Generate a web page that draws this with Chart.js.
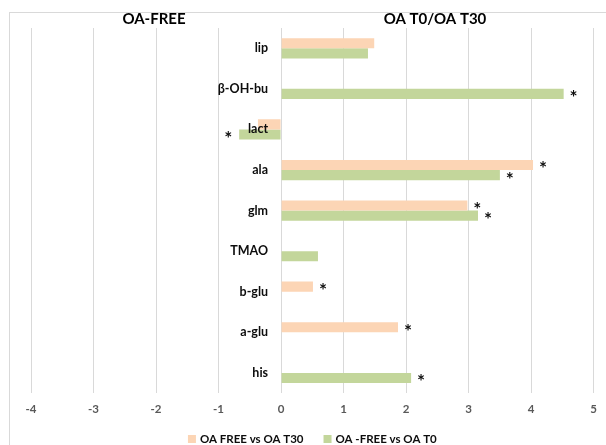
<!DOCTYPE html>
<html>
<head>
<meta charset="utf-8">
<title>OA-FREE vs OA T0/OA T30</title>
<script src="https://cdn.jsdelivr.net/npm/chart.js@4"></script>
<style>
  html, body { margin: 0; padding: 0; background: #fff; overflow: hidden; }
  #wrap { position: relative; width: 606px; height: 445px; }
  #frame { position: absolute; left: 9px; top: 12px; width: 700px; height: 500px;
           border: 1px solid #D9D9D9; pointer-events: none; }
  canvas { position: absolute; left: 0; top: 0; }
</style>
</head>
<body>
<div id="wrap">
  <canvas id="foldChart" width="606" height="445"></canvas>
  <div id="frame"></div>
</div>
<script>
// metabolites, top to bottom
const metabolites = ['lip', 'β-OH-bu', 'lact', 'ala', 'glm', 'TMAO', 'b-glu', 'a-glu', 'his'];

// fold change per metabolite (null = not shown)
const freeVsT30 = [1.49, null, -0.37, 4.03, 2.98, null, 0.51, 1.87, null];
const freeVsT0 = [1.39, 4.52, -0.67, 3.50, 3.15, 0.59, null, null, 2.08];

// significance markers (*)
const sigT30 = [false, false, false, true, true, false, true, true, false];
const sigT0 = [false, true, true, true, true, false, false, false, true];

const seriesNames = ['OA FREE vs OA T30', 'OA -FREE vs OA T0'];
const xMin = -4;
const xMax = 5;

const FONT = 'Lato, "Open Sans", sans-serif';

// category names sit just left of the zero line, stars next to bar ends,
// the two panel headings on top and a legend under the axis
const annotations = {
  id: 'annotations',
  afterDatasetsDraw(chart) {
    const ctx = chart.ctx;
    const x = chart.scales.x;
    const y = chart.scales.y;
    const area = chart.chartArea;
    const zero = x.getPixelForValue(0);

    ctx.save();

    // category labels
    ctx.font = 'bold 12.5px ' + FONT;
    ctx.fillStyle = '#0d0d0d';
    ctx.textAlign = 'right';
    ctx.textBaseline = 'middle';
    metabolites.forEach((name, i) => {
      ctx.fillText(name, zero - 13, y.getPixelForValue(i));
    });

    // stars
    const sigs = [sigT30, sigT0];
    ctx.font = 'bold 19px ' + FONT;
    ctx.textAlign = 'center';
    ctx.textBaseline = 'alphabetic';
    const m = ctx.measureText('*');
    const lift = (m.actualBoundingBoxAscent - m.actualBoundingBoxDescent) / 2;
    chart.data.datasets.forEach((ds, d) => {
      const meta = chart.getDatasetMeta(d);
      meta.data.forEach((bar, i) => {
        if (!sigs[d][i] || ds.data[i] == null) return;
        const off = ds.data[i] >= 0 ? 10 : -11;
        ctx.fillText('*', bar.x + off, bar.y + lift);
      });
    });

    // panel headings
    ctx.font = 'bold 15px ' + FONT;
    ctx.fillStyle = '#000';
    ctx.textBaseline = 'middle';
    ctx.fillText('OA-FREE', 154, 19);
    ctx.fillText('OA T0/OA T30', 435, 19);

    // legend
    ctx.font = 'bold 11.5px ' + FONT;
    ctx.textAlign = 'left';
    const box = 8, gap = 4, spacing = 20;
    const widths = chart.data.datasets.map(ds => ctx.measureText(ds.label).width);
    const total = widths.reduce((a, w) => a + box + gap + w, 0) + spacing * (widths.length - 1);
    let lx = (area.left + area.right) / 2 - total / 2;
    const ly = 439;
    chart.data.datasets.forEach((ds, d) => {
      ctx.fillStyle = ds.backgroundColor;
      ctx.fillRect(lx, ly - box / 2, box, box);
      ctx.fillStyle = '#0d0d0d';
      ctx.fillText(ds.label, lx + box + gap, ly + 0.5);
      lx += box + gap + widths[d] + spacing;
    });

    ctx.restore();
  }
};

new Chart(document.getElementById('foldChart'), {
  type: 'bar',
  data: {
    labels: metabolites,
    datasets: [
      {
        label: seriesNames[0],
        data: freeVsT30,
        backgroundColor: '#FCD5B5',
        borderWidth: 0
      },
      {
        label: seriesNames[1],
        data: freeVsT0,
        backgroundColor: '#C3D69B',
        borderWidth: 0
      }
    ]
  },
  options: {
    indexAxis: 'y',
    responsive: false,
    animation: false,
    categoryPercentage: 0.5,
    barPercentage: 1.0,
    layout: {
      padding: { top: 28, left: 31, right: 12, bottom: 20 }
    },
    plugins: {
      legend: { display: false },
      tooltip: { enabled: false }
    },
    scales: {
      x: {
        type: 'linear',
        min: xMin,
        max: xMax,
        ticks: {
          stepSize: 1,
          padding: 9,
          color: '#595959',
          font: { family: FONT, size: 11.5, weight: 'bold' }
        },
        grid: { color: '#D9D9D9', lineWidth: 1, drawTicks: false },
        border: { display: false }
      },
      y: {
        display: false
      }
    }
  },
  plugins: [annotations]
});
</script>
</body>
</html>
